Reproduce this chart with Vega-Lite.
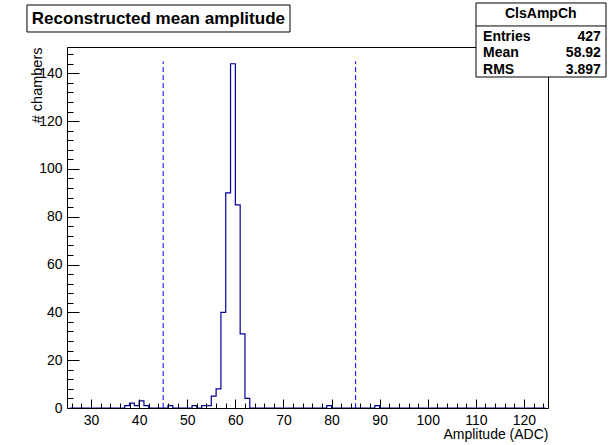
{
  "$schema": "https://vega.github.io/schema/vega-lite/v6.json",
  "width": 481,
  "height": 361,
  "autosize": "none",
  "padding": {"left": 67, "top": 47, "right": 64, "bottom": 37},
  "background": "white",
  "config": {
    "view": {"stroke": "black", "strokeWidth": 1},
    "font": "Liberation Sans",
    "axis": {"labelOverlap": false, "grid": false}
  },
  "datasets": {
    "hist": [
      {"amp": 25.5, "count": 0}, {"amp": 26.5, "count": 0}, {"amp": 27.5, "count": 0}, {"amp": 28.5, "count": 0}, {"amp": 29.5, "count": 0},
      {"amp": 30.5, "count": 0}, {"amp": 31.5, "count": 0}, {"amp": 32.5, "count": 0}, {"amp": 33.5, "count": 0}, {"amp": 34.5, "count": 0},
      {"amp": 35.5, "count": 0}, {"amp": 36.5, "count": 0}, {"amp": 37.5, "count": 1}, {"amp": 38.5, "count": 2}, {"amp": 39.5, "count": 1},
      {"amp": 40.5, "count": 3}, {"amp": 41.5, "count": 1}, {"amp": 42.5, "count": 0}, {"amp": 43.5, "count": 0}, {"amp": 44.5, "count": 0},
      {"amp": 45.5, "count": 0}, {"amp": 46.5, "count": 1}, {"amp": 47.5, "count": 0}, {"amp": 48.5, "count": 0}, {"amp": 49.5, "count": 0},
      {"amp": 50.5, "count": 0}, {"amp": 51.5, "count": 1}, {"amp": 52.5, "count": 0}, {"amp": 53.5, "count": 1}, {"amp": 54.5, "count": 1},
      {"amp": 55.5, "count": 5}, {"amp": 56.5, "count": 8}, {"amp": 57.5, "count": 40}, {"amp": 58.5, "count": 90}, {"amp": 59.5, "count": 144},
      {"amp": 60.5, "count": 85}, {"amp": 61.5, "count": 31}, {"amp": 62.5, "count": 4}, {"amp": 63.5, "count": 0}, {"amp": 64.5, "count": 0},
      {"amp": 65.5, "count": 0}, {"amp": 66.5, "count": 0}, {"amp": 67.5, "count": 0}, {"amp": 68.5, "count": 0}, {"amp": 69.5, "count": 0},
      {"amp": 70.5, "count": 0}, {"amp": 71.5, "count": 0}, {"amp": 72.5, "count": 0}, {"amp": 73.5, "count": 0}, {"amp": 74.5, "count": 0},
      {"amp": 75.5, "count": 0}, {"amp": 76.5, "count": 0}, {"amp": 77.5, "count": 0}, {"amp": 78.5, "count": 0}, {"amp": 79.5, "count": 1},
      {"amp": 80.5, "count": 0}, {"amp": 81.5, "count": 0}, {"amp": 82.5, "count": 0}, {"amp": 83.5, "count": 0}, {"amp": 84.5, "count": 0},
      {"amp": 85.5, "count": 0}, {"amp": 86.5, "count": 0}, {"amp": 87.5, "count": 0}, {"amp": 88.5, "count": 0}, {"amp": 89.5, "count": 1},
      {"amp": 90.5, "count": 0}, {"amp": 91.5, "count": 0}, {"amp": 92.5, "count": 0}, {"amp": 93.5, "count": 0}, {"amp": 94.5, "count": 0},
      {"amp": 95.5, "count": 0}, {"amp": 96.5, "count": 0}, {"amp": 97.5, "count": 0}, {"amp": 98.5, "count": 0}, {"amp": 99.5, "count": 0},
      {"amp": 100.5, "count": 0}, {"amp": 101.5, "count": 0}, {"amp": 102.5, "count": 0}, {"amp": 103.5, "count": 0}, {"amp": 104.5, "count": 0},
      {"amp": 105.5, "count": 0}, {"amp": 106.5, "count": 0}, {"amp": 107.5, "count": 0}, {"amp": 108.5, "count": 0}, {"amp": 109.5, "count": 0},
      {"amp": 110.5, "count": 0}, {"amp": 111.5, "count": 0}, {"amp": 112.5, "count": 0}, {"amp": 113.5, "count": 0}, {"amp": 114.5, "count": 0},
      {"amp": 115.5, "count": 0}, {"amp": 116.5, "count": 0}, {"amp": 117.5, "count": 0}, {"amp": 118.5, "count": 0}, {"amp": 119.5, "count": 0},
      {"amp": 120.5, "count": 0}, {"amp": 121.5, "count": 0}, {"amp": 122.5, "count": 0}, {"amp": 123.5, "count": 0}, {"amp": 124.5, "count": 0}
    ],
    "cuts": [{"cut": 45}, {"cut": 85}],
    "title": [{"text": "Reconstructed mean amplitude"}],
    "statsHeader": [{"name": "ClsAmpCh"}],
    "stats": [
      {"stat": "Entries", "value": "427"},
      {"stat": "Mean", "value": "58.92"},
      {"stat": "RMS", "value": "3.897"}
    ]
  },
  "layer": [
    {
      "data": {"name": "hist"},
      "mark": {"type": "line", "interpolate": "step", "color": "#000099", "strokeWidth": 1.2},
      "encoding": {
        "x": {
          "field": "amp", "type": "quantitative",
          "scale": {"domain": [25, 125], "nice": false, "zero": false},
          "axis": {
            "values": [26,28,30,32,34,36,38,40,42,44,46,48,50,52,54,56,58,60,62,64,66,68,70,72,74,76,78,80,82,84,86,88,90,92,94,96,98,100,102,104,106,108,110,112,114,116,118,120,122,124],
            "tickCount": 500,
            "format": "d",
            "labelExpr": "datum.value % 10 === 0 ? datum.label : ''",
            "tickSize": {"condition": {"test": "datum.value % 10 === 0", "value": -9}, "value": -5},
            "tickColor": "black", "domainColor": "black", "tickWidth": 1,
            "labelColor": "black", "labelFont": "Liberation Sans", "labelFontSize": 14,
            "labelPadding": 14, "labelFlush": false, "labelOverlap": false,
            "zindex": 1,
            "title": "Amplitude (ADC)", "titleFont": "Liberation Sans", "titleFontSize": 14,
            "titleFontWeight": "normal", "titleColor": "black",
            "titleAlign": "right", "titleAnchor": "end", "titleBaseline": "alphabetic",
            "titleX": 481, "titleY": 30.5
          }
        },
        "y": {
          "field": "count", "type": "quantitative",
          "scale": {"domain": [0, 151], "nice": false},
          "axis": {
            "values": [0,4,8,12,16,20,24,28,32,36,40,44,48,52,56,60,64,68,72,76,80,84,88,92,96,100,104,108,112,116,120,124,128,132,136,140,144,148],
            "tickCount": 500,
            "format": "d",
            "labelExpr": "datum.value % 20 === 0 ? datum.label : ''",
            "tickSize": {"condition": {"test": "datum.value % 20 === 0", "value": -12}, "value": -6},
            "tickColor": "black", "domainColor": "black", "tickWidth": 1,
            "labelColor": "black", "labelFont": "Liberation Sans", "labelFontSize": 14,
            "labelPadding": 17, "labelFlush": false, "labelOverlap": false,
            "zindex": 1,
            "title": "# chambers", "titleFont": "Liberation Sans", "titleFontSize": 14.5,
            "titleFontWeight": "normal", "titleColor": "black",
            "titleAngle": -90, "titleAlign": "right", "titleBaseline": "alphabetic",
            "titleX": -26, "titleY": 0
          }
        }
      }
    },
    {
      "data": {"name": "cuts"},
      "mark": {"type": "rule", "color": "#0000ff", "strokeWidth": 1, "strokeDash": [5, 3]},
      "encoding": {
        "x": {"field": "cut", "type": "quantitative"},
        "y": {"datum": 0},
        "y2": {"datum": 145}
      }
    },
    {
      "data": {"name": "title"},
      "mark": {"type": "rect", "fill": "white", "stroke": "black", "strokeWidth": 1},
      "encoding": {
        "x": {"datum": 16.68}, "x2": {"datum": 71.36},
        "y": {"datum": 168.57}, "y2": {"datum": 157.28}
      }
    },
    {
      "data": {"name": "title"},
      "mark": {"type": "text", "font": "Liberation Sans", "fontSize": 17, "fontWeight": "bold", "color": "black", "align": "center", "baseline": "middle"},
      "encoding": {
        "x": {"datum": 44.0}, "y": {"datum": 162.9},
        "text": {"field": "text"}
      }
    },
    {
      "data": {"name": "statsHeader"},
      "mark": {"type": "rect", "fill": "white", "stroke": "black", "strokeWidth": 1},
      "encoding": {
        "x": {"datum": 110.03}, "x2": {"datum": 137.06},
        "y": {"datum": 169.41}, "y2": {"datum": 138.45}
      }
    },
    {
      "data": {"name": "statsHeader"},
      "mark": {"type": "rule", "color": "black", "strokeWidth": 1},
      "encoding": {
        "x": {"datum": 110.03}, "x2": {"datum": 137.06},
        "y": {"datum": 159.8}
      }
    },
    {
      "data": {"name": "statsHeader"},
      "mark": {"type": "text", "font": "Liberation Sans", "fontSize": 14, "fontWeight": "bold", "color": "black", "align": "center", "baseline": "middle"},
      "encoding": {
        "x": {"datum": 123.5}, "y": {"datum": 164.6},
        "text": {"field": "name"}
      }
    },
    {
      "data": {"name": "stats"},
      "mark": {"type": "text", "font": "Liberation Sans", "fontSize": 14, "fontWeight": "bold", "color": "black", "align": "left", "baseline": "middle"},
      "encoding": {
        "x": {"datum": 111.5}, "y": {"datum": 155.2},
        "yOffset": {"field": "stat", "type": "nominal", "scale": {"type": "point", "padding": 0, "domain": ["Entries", "Mean", "RMS"], "range": [0, 33]}},
        "text": {"field": "stat"}
      }
    },
    {
      "data": {"name": "stats"},
      "mark": {"type": "text", "font": "Liberation Sans", "fontSize": 14, "fontWeight": "bold", "color": "black", "align": "right", "baseline": "middle"},
      "encoding": {
        "x": {"datum": 136.0}, "y": {"datum": 155.2},
        "yOffset": {"field": "stat", "type": "nominal", "scale": {"type": "point", "padding": 0, "domain": ["Entries", "Mean", "RMS"], "range": [0, 33]}},
        "text": {"field": "value"}
      }
    }
  ]
}
